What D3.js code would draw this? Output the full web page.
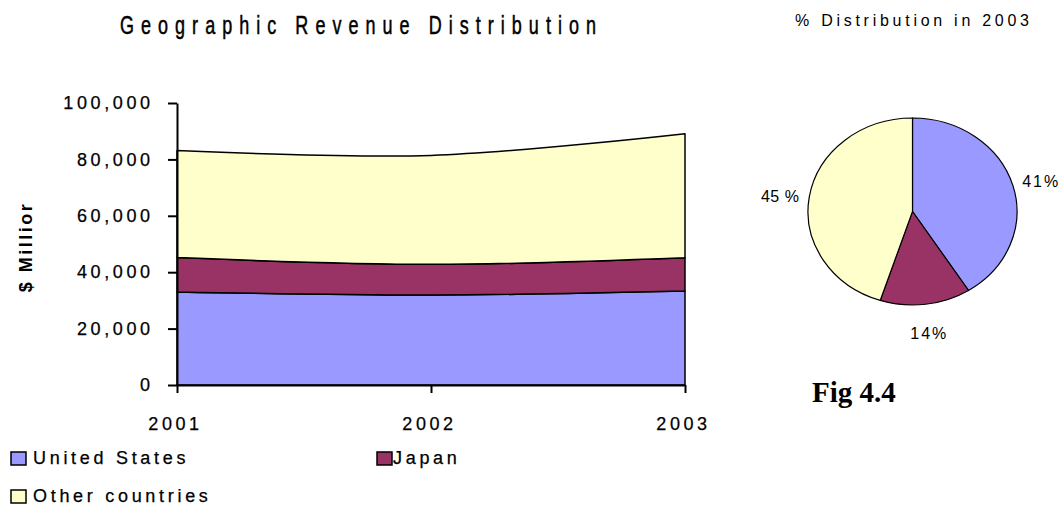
<!DOCTYPE html>
<html>
<head>
<meta charset="utf-8">
<script src="https://cdn.jsdelivr.net/npm/d3@7"></script>
<style>
  html, body { margin: 0; padding: 0; background: #ffffff; }
  svg { display: block; }
</style>
</head>
<body>
<svg id="chart" width="1060" height="510" font-family="Liberation Sans, Arial, sans-serif"></svg>
<script>
// ---- data ----
const years = [2001, 2002, 2003];
const seriesNames = ["United States", "Japan", "Other countries"];
const usValues = [33000, 31900, 33300];
const japanValues = [12200, 10900, 11800];
const otherValues = [38000, 38600, 44000];
const yTickValues = [0, 20000, 40000, 60000, 80000, 100000];
const pieShares = [41, 14, 45];
const pieLabels = ["41%", "14%", "45 %"];
const seriesColors = ["#9999FF", "#993366", "#FFFFCC"];

const chartTitle = "Geographic Revenue Distribution";
const yAxisTitle = "$ Millior";
const pieTitle = "% Distribution in 2003";
const figLabel = "Fig 4.4";

// ---- setup ----
const svg = d3.select("#chart");
svg.append("rect").attr("width", 1060).attr("height", 510).attr("fill", "#fff");

const x = d3.scaleLinear().domain([2001, 2003]).range([177, 685]);
const y = d3.scaleLinear().domain([0, 100000]).range([385, 103]);

const rows = years.map((yr, i) => ({
  year: yr,
  "United States": usValues[i],
  "Japan": japanValues[i],
  "Other countries": otherValues[i]
}));
const stacked = d3.stack().keys(seriesNames)(rows);

const area = d3.area()
  .x(d => x(d.data.year))
  .y0(d => y(d[0]))
  .y1(d => y(d[1]))
  .curve(d3.curveCardinal.tension(0));

svg.append("g").selectAll("path")
  .data(stacked)
  .join("path")
  .attr("d", area)
  .attr("fill", (d, i) => seriesColors[i])
  .attr("stroke", "#000")
  .attr("stroke-width", 1.5)
  .attr("stroke-linejoin", "round");

// ---- axes ----
const LS = 3.6;
const yAxis = svg.append("g")
  .attr("transform", `translate(${x(2001)},0)`)
  .call(d3.axisLeft(y).tickValues(yTickValues).tickSize(9).tickSizeOuter(0).tickPadding(18 - LS).tickFormat(d3.format(",")));
const xAxis = svg.append("g")
  .attr("transform", `translate(0,${y(0)})`)
  .call(d3.axisBottom(x).tickValues(years).tickSize(8).tickSizeOuter(0).tickPadding(24).tickFormat(d3.format("d")));

[yAxis, xAxis].forEach(g => {
  g.attr("font-family", null).attr("font-size", null);
  g.selectAll("path.domain").attr("stroke", "#000").attr("stroke-width", 2);
  g.selectAll(".tick line").attr("stroke", "#000").attr("stroke-width", 2);
  g.selectAll("text")
    .style("font-family", "Liberation Sans, Arial, sans-serif")
    .style("font-size", "18px")
    .attr("letter-spacing", LS)
    .attr("fill", "#000")
    .attr("stroke", "#000")
    .attr("stroke-width", 0.25);
});
xAxis.selectAll(".tick text").attr("dx", -2);

// y axis title
svg.append("text")
  .attr("transform", "translate(32,247) rotate(-90)")
  .attr("text-anchor", "middle")
  .style("font-family", "Liberation Sans, Arial, sans-serif")
  .style("font-size", "18px")
  .style("font-weight", "bold")
  .attr("letter-spacing", 2.5)
  .text(yAxisTitle);

// main title (condensed look via horizontal scaling)
const titleScale = 0.72;
svg.append("g")
  .attr("transform", `translate(120,34) scale(${titleScale},1)`)
  .append("text")
  .attr("x", 0)
  .attr("y", 0)
  .style("font-family", "Liberation Sans, Arial, sans-serif")
  .style("font-size", "25px")
  .attr("stroke", "#000")
  .attr("stroke-width", 0.5)
  .attr("textLength", 476 / titleScale)
  .attr("lengthAdjust", "spacing")
  .text(chartTitle);

// ---- legend ----
const legendItems = [
  { name: seriesNames[0], color: seriesColors[0], sx: 11, sy: 452, tx: 33, ty: 464 },
  { name: seriesNames[1], color: seriesColors[1], sx: 377, sy: 452, tx: 393, ty: 464 },
  { name: seriesNames[2], color: seriesColors[2], sx: 11, sy: 490, tx: 33, ty: 502 }
];
const lg = svg.append("g");
lg.selectAll("rect").data(legendItems).join("rect")
  .attr("x", d => d.sx).attr("y", d => d.sy)
  .attr("width", 15).attr("height", 13)
  .attr("fill", d => d.color)
  .attr("stroke", "#000").attr("stroke-width", 1.5);
lg.selectAll("text").data(legendItems).join("text")
  .attr("x", d => d.tx).attr("y", d => d.ty)
  .style("font-family", "Liberation Sans, Arial, sans-serif")
  .style("font-size", "18px")
  .attr("letter-spacing", 3.7)
  .attr("stroke", "#000")
  .attr("stroke-width", 0.25)
  .text(d => d.name);

// ---- pie ----
const cx = 912.5, cy = 211.5, rx = 104.5, ry = 93.5;
const pie = d3.pie().sort(null).value(d => d)(pieShares);
const arc = d3.arc().innerRadius(0).outerRadius(rx);
const labelArc = d3.arc().innerRadius(134).outerRadius(134);

const pg = svg.append("g").attr("transform", `translate(${cx},${cy}) scale(1,${ry / rx})`);
pg.selectAll("path").data(pie).join("path")
  .attr("d", arc)
  .attr("fill", (d, i) => seriesColors[i])
  .attr("stroke", "#000")
  .attr("stroke-width", 1.2)
  .attr("vector-effect", "non-scaling-stroke");

svg.append("g").selectAll("text").data(pie).join("text")
  .attr("x", d => cx + labelArc.centroid(d)[0])
  .attr("y", d => cy + labelArc.centroid(d)[1] * ry / rx + 3)
  .attr("dy", "0.36em")
  .attr("text-anchor", "middle")
  .style("font-family", "Liberation Sans, Arial, sans-serif")
  .style("font-size", "16px")
  .attr("letter-spacing", (d, i) => i === 2 ? 0.5 : 2)
  .text((d, i) => pieLabels[i]);

svg.append("text")
  .attr("x", 795)
  .attr("y", 26)
  .style("font-family", "Liberation Sans, Arial, sans-serif")
  .style("font-size", "16px")
  .attr("textLength", 234)
  .attr("lengthAdjust", "spacing")
  .text(pieTitle);

svg.append("text")
  .attr("x", 812)
  .attr("y", 402)
  .style("font-family", "'Liberation Serif', 'Times New Roman', serif")
  .style("font-weight", "bold")
  .style("font-size", "29px")
  .text(figLabel);
</script>
</body>
</html>
